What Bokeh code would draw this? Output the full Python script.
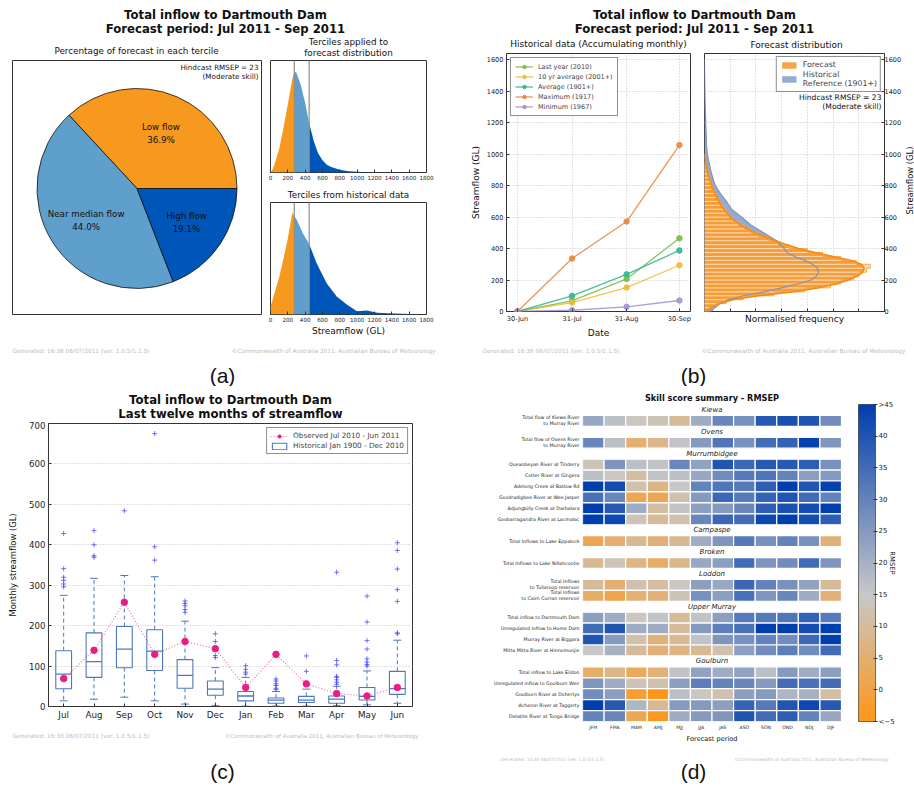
import numpy as np
import pandas as pd
from bokeh.plotting import figure
from bokeh.models import (Range1d, Label, FixedTicker, Legend, LegendItem, Title,
                          ColumnDataSource, LinearColorMapper, Grid, Span)
from bokeh.layouts import row, column
from bokeh.embed import file_html
from bokeh.resources import INLINE
from bokeh.core.properties import value

FONT = "DejaVu Sans"
FOOT_COLOR = "#BDBDBD"

# ---------------- data ----------------
chart_title = "Total inflow to Dartmouth Dam"
forecast_period = "Forecast period: Jul 2011 - Sep 2011"
last12_title = "Last twelve months of streamflow"
footer_a = "Generated: 16:38 06/07/2011 (ver. 1.0.5/1.1.5)"
footer_c = "Generated: 16:33 06/07/2011 (ver. 1.0.5/1.1.5)"
footer_d = "Generated: 10:40 08/07/2011 (ver. 1.0.5/1.1.5)"
copyright_txt = "\u00a9Commonwealth of Australia 2011, Australian Bureau of Meteorology"

# (a) terciles
tercile_labels = ["Low flow", "Near median flow", "High flow"]
tercile_pct = [36.9, 44.0, 19.1]
tercile_colors = ["#F7991F", "#5E9FCB", "#0055B9"]
tercile_bounds = [275, 446]
flow_ticks = list(range(0, 1801, 200))

fc_flow = [0, 25, 50, 100, 150, 200, 250, 275, 300, 350, 400, 446, 500, 550, 600, 650, 700, 800, 900, 1000, 1100, 1200]
fc_density = [0.0, 0.03, 0.08, 0.21, 0.40, 0.61, 0.83, 0.905, 0.89, 0.78, 0.62, 0.44, 0.28, 0.17, 0.11, 0.07, 0.05, 0.025, 0.012, 0.006, 0.003, 0.0]
hist_flow = [0, 50, 100, 150, 200, 252, 275, 300, 376, 446, 531, 648, 764, 880, 997, 1113, 1230, 1423, 1617, 1650]
hist_density = [0.07, 0.20, 0.33, 0.50, 0.68, 0.91, 0.88, 0.85, 0.72, 0.63, 0.46, 0.28, 0.16, 0.09, 0.03, 0.035, 0.015, 0.01, 0.005, 0.0]

# (b) accumulating monthly flow
acc_dates = ["2011-06-30", "2011-07-31", "2011-08-31", "2011-09-30"]
acc_labels = ["30-Jun", "31-Jul", "31-Aug", "30-Sep"]
acc_names = ["Last year (2010)", "10 yr average (2001+)", "Average (1901+)", "Maximum (1917)", "Minimum (1967)"]
acc_last_year = [0, 68, 207, 466]
acc_10yr_avg = [0, 57, 152, 294]
acc_average = [0, 99, 236, 388]
acc_maximum = [0, 337, 572, 1058]
acc_minimum = [0, 8, 30, 70]
acc_colors = ["#78B943", "#EDBB2C", "#2DB48E", "#E9843B", "#9D90D2"]

fc_hist_edges = list(range(0, 951, 25))
fc_hist_freq = [0.2, 0.45, 0.85, 1.5, 2.7, 3.9, 4.9, 5.3, 5.8, 6.0, 6.3, 6.45, 5.9, 5.3, 4.6, 4.0,
                3.3, 2.85, 2.5, 2.1, 1.8, 1.55, 1.3, 1.1, 0.95, 0.85, 0.75, 0.62, 0.55, 0.45, 0.38,
                0.32, 0.27, 0.22, 0.17, 0.12, 0.08, 0.05]
fc_kde_flow = [0, 25, 50, 75, 100, 125, 150, 175, 200, 225, 250, 275, 300, 325, 350, 375, 400, 425,
               450, 500, 550, 600, 650, 700, 750, 800, 850, 900, 950, 1000]
fc_kde_freq = [0.1, 0.25, 0.6, 1.1, 2.1, 3.5, 4.4, 5.1, 5.6, 5.95, 6.15, 6.21, 6.1, 5.7, 5.0, 4.3,
               3.66, 3.2, 2.75, 1.95, 1.4, 1.0, 0.75, 0.55, 0.4, 0.28, 0.18, 0.1, 0.04, 0.0]
ref_kde_flow = [0, 25, 50, 75, 100, 125, 150, 175, 200, 225, 250, 275, 300, 325, 350, 375, 400, 450,
                500, 550, 600, 650, 700, 750, 800, 850, 900, 950, 1000, 1050, 1100, 1200, 1300, 1400, 1500, 1600]
ref_kde_freq = [0.25, 0.4, 0.6, 0.95, 1.5, 2.3, 3.0, 3.6, 4.15, 4.35, 4.43, 4.4, 4.2, 3.9, 3.5, 3.2,
                3.1, 2.8, 2.3, 1.8, 1.45, 1.05, 0.85, 0.62, 0.42, 0.32, 0.24, 0.17, 0.11, 0.08, 0.07,
                0.05, 0.03, 0.015, 0.005, 0.0]
norm_freq_ticks = [1, 2, 3, 4, 5, 6]

# (c) last twelve months
months = ["Jul", "Aug", "Sep", "Oct", "Nov", "Dec", "Jan", "Feb", "Mar", "Apr", "May", "Jun"]
box_q1 = [44, 72, 96, 89, 45, 28, 14, 8, 10, 8, 16, 30]
box_med = [80, 111, 142, 137, 77, 43, 26, 16, 16, 18, 25, 44]
box_q3 = [138, 182, 198, 190, 116, 63, 37, 21, 25, 26, 47, 87]
box_lo = [14, 18, 23, 14, 6, 2, 1, 1, 1, 2, 4, 8]
box_hi = [275, 317, 324, 321, 211, 96, 72, 37, 43, 50, 88, 164]
box_outliers = [
    [296, 303, 312, 320, 341, 428],
    [369, 373, 400, 435],
    [484],
    [362, 395, 675],
    [233, 240, 249, 255, 261],
    [121, 126, 161, 180],
    [80, 85, 92, 101],
    [42, 45, 52, 56, 63, 68],
    [87, 125],
    [55, 60, 66, 72, 75, 103, 114, 332],
    [100, 104, 110, 118, 142, 163, 209, 273],
    [180, 182, 260, 289, 340, 386, 405],
]
observed = [69, 139, 258, 129, 161, 143, 47, 129, 56, 32, 26, 47]

# (d) skill score summary
periods = ["JFM", "FMA", "MAM", "AMJ", "MJJ", "JJA", "JAS", "ASO", "SON", "OND", "NDJ", "DJF"]
groups = ["Kiewa", "Ovens", "Murrumbidgee", "Campaspe", "Broken", "Loddon", "Upper Murray", "Goulburn"]
group_sites = [
    ["Total flow of Kiewa River\nto Murray River"],
    ["Total flow of Ovens River\nto Murray River"],
    ["Queanbeyan River at Tinderry", "Cotter River at Gingera", "Adelong Creek at Batlow Rd",
     "Goodradigbee River at Wee Jasper", "Adjungbilly Creek at Darbalara", "Goobarragandra River at Lacmalac"],
    ["Total Inflows to Lake Eppalock"],
    ["Total Inflows to Lake Nillahcootie"],
    ["Total Inflows\nto Tullaroop reservoir", "Total Inflows\nto Cairn Curran reservoir"],
    ["Total inflow to Dartmouth Dam", "Unregulated inflow to Hume Dam", "Murray River at Biggara",
     "Mitta Mitta River at Hinnomunjie"],
    ["Total inflow to Lake Eildon", "Unregulated inflow to Goulburn Weir", "Goulburn River at Dohertys",
     "Acheron River at Taggerty", "Delatite River at Tonga Bridge"],
]
rmsep_rows = [
    [22, 17, 14, 13, 10, 21, 29, 27, 39, 41, 40, 28],
    [29, 17, 5, 8, 16, 25, 33, 27, 35, 37, 44, 26],
    [13, 26, 17, 16, 29, 23, 40, 36, 39, 39, 38, 27],
    [17, 14, 11, 16, 17, 22, 28, 32, 33, 30, 24, 25],
    [45, 42, 12, 7, 15, 30, 33, 32, 38, 45, 40, 44],
    [34, 29, 2, 2, 12, 25, 36, 32, 37, 40, 35, 30],
    [45, 39, 21, 11, 16, 24, 25, 29, 38, 41, 42, 45],
    [45, 43, 13, 10, 12, 29, 36, 35, 43, 45, 42, 38],
    [2, 5, 9, 6, 9, 21, 26, 32, 27, 30, 27, 6],
    [9, 13, 7, 4, 8, 22, 24, 35, 26, 28, 35, 26],
    [10, 5, 12, 11, 14, 24, 22, 36, 30, 27, 23, 10],
    [4, 1, 6, 6, 13, 27, 24, 34, 26, 29, 21, 6],
    [24, 21, 14, 16, 10, 16, 24, 32, 32, 33, 37, 32],
    [35, 40, 21, 21, 10, 25, 31, 34, 45, 45, 42, 45],
    [40, 25, 12, 6, 9, 16, 26, 27, 30, 28, 36, 45],
    [15, 20, 10, 6, 7, 9, 12, 24, 28, 31, 28, 35],
    [4, 8, 3, 6, 16, 23, 21, 23, 17, 25, 21, 24],
    [26, 21, 13, 12, 24, 31, 30, 29, 25, 35, 34, 35],
    [28, 24, -2, -5, 17, 14, 12, 24, 25, 19, 20, 11],
    [45, 39, 19, 9, 25, 25, 24, 37, 32, 40, 43, 39],
    [30, 29, 2, -4, 21, 25, 26, 40, 35, 38, 30, 22],
]
rmsep_low, rmsep_high = -5, 45
cbar_ticks = [-5, 0, 5, 10, 15, 20, 25, 30, 35, 40, 45]

# ---------------- helpers ----------------
FRAMES = {}


def mk(L, T, R, B, fl=None, ft=None, fr=None, fb=None, xr=(0, 1), yr=(0, 1), xaxis=None, yaxis=None):
    fl = L if fl is None else fl
    ft = T if ft is None else ft
    fr = R if fr is None else fr
    fb = B if fb is None else fb
    p = figure(width=R - L, height=B - T, output_backend="svg", toolbar_location=None,
               x_range=Range1d(*xr), y_range=Range1d(*yr),
               x_axis_location=xaxis, y_axis_location=yaxis,
               min_border_left=fl - L, min_border_right=R - fr,
               min_border_top=ft - T, min_border_bottom=B - fb)
    p.grid.visible = False
    p.outline_line_color = None
    p.background_fill_color = "white"
    p.border_fill_color = "white"
    FRAMES[p.id] = (fl, fb)
    return p


def txt(p, X, Y, text, size, color="#111111", style="normal", align="center",
        baseline="middle", angle=0.0, font=FONT):
    fl, fb = FRAMES[p.id]
    p.add_layout(Label(x=X - fl, y=fb - Y, x_units="screen", y_units="screen", text=text,
                       text_font=font, text_font_size=f"{size}px", text_color=color,
                       text_font_style=style, text_align=align, text_baseline=baseline,
                       angle=angle))


def add_title(p, text, size, standoff, style="normal", place="above"):
    p.add_layout(Title(text=text, text_font=FONT, text_font_size=f"{size}px", text_font_style=style,
                       text_color="#111111", align="center", standoff=standoff, offset=0), place)


def style_axis(ax, size, color="#222222"):
    ax.major_label_text_font = FONT
    ax.major_label_text_font_size = f"{size}px"
    ax.major_label_text_color = color
    ax.axis_line_color = None
    ax.major_tick_in = 3
    ax.major_tick_out = 0
    ax.minor_tick_line_color = None
    ax.major_tick_line_color = "#333333"
    ax.major_label_standoff = 3
    ax.axis_label_text_font = FONT
    ax.axis_label_text_font_style = "normal"
    ax.axis_label_text_color = "#111111"


def axis_label(ax, text, size, standoff):
    ax.axis_label = text
    ax.axis_label_text_font_size = f"{size}px"
    ax.axis_label_standoff = standoff


def dotted_grid(p, dim, ticks):
    g = Grid(dimension=dim, ticker=FixedTicker(ticks=ticks), grid_line_color="#C4C4C4",
             grid_line_dash="1 2", grid_line_width=1)
    p.add_layout(g)


FRAME_LINE = "#333333"

# ================= PANEL A =================
pa_top = mk(0, 0, 440, 59)
txt(pa_top, 225, 14.5, chart_title, 11.7, style="bold")
txt(pa_top, 225, 28.5, forecast_period, 11.7, style="bold")
txt(pa_top, 136, 50, "Percentage of forecast in each tercile", 8.8)
txt(pa_top, 348, 41.5, "Terciles applied to", 8.8)
txt(pa_top, 348, 52.5, "forecast distribution", 8.8)

pie = mk(0, 59, 265, 340, 12, 60, 261, 314, xr=(-1.245, 1.245), yr=(-1.26, 1.28))
pie.outline_line_color = FRAME_LINE
pie.outline_line_width = 1
frac = np.array(tercile_pct) / np.sum(tercile_pct)
ends = np.cumsum(frac) * 2 * np.pi
starts = np.concatenate([[0.0], ends[:-1]])
mids = (starts + ends) / 2
pie.wedge(x=0, y=0, radius=1, start_angle=starts, end_angle=ends,
          fill_color=tercile_colors, line_color="#111111", line_width=0.8)
pie.text(x=0.6 * np.cos(mids), y=0.6 * np.sin(mids),
         text=[f"{n}\n{v:.1f}%" for n, v in zip(tercile_labels, tercile_pct)],
         text_font=value(FONT), text_font_size="8.7px", text_align="center",
         text_baseline="middle", text_color="#111111", text_line_height=1.25)
txt(pie, 258, 66.5, "Hindcast RMSEP = 23", 7.2, align="right")
txt(pie, 258, 75.5, "(Moderate skill)", 7.2, align="right")


def density_panel(p, flows, dens):
    flows = np.array(flows, dtype=float)
    dens = np.array(dens, dtype=float)
    edges = [flows[0]] + tercile_bounds + [flows[-1]]
    for i, c in enumerate(tercile_colors):
        m = (flows >= edges[i]) & (flows <= edges[i + 1])
        p.varea(x=flows[m], y1=0, y2=dens[m], fill_color=c)
    for b in tercile_bounds:
        p.add_layout(Span(location=b, dimension="height", line_color="#8C8C8C", line_width=1.2))
    p.outline_line_color = FRAME_LINE
    p.outline_line_width = 1
    p.xaxis.ticker = FixedTicker(ticks=flow_ticks)
    style_axis(p.xaxis[0], 5.6)
    p.xaxis.major_label_standoff = 2


s1 = mk(265, 59, 440, 183, 270, 60, 426, 172, xr=(0, 1800), yr=(0, 1), xaxis="below")
density_panel(s1, fc_flow, fc_density)

s2t = mk(265, 183, 440, 201, 270, 183, 426, 201)
txt(s2t, 348, 194, "Terciles from historical data", 8.8)

s2 = mk(265, 201, 440, 340, 270, 202, 426, 314, xr=(0, 1800), yr=(0, 1), xaxis="below")
density_panel(s2, hist_flow, hist_density)
axis_label(s2.xaxis[0], "Streamflow (GL)", 9, 1)

pa_foot = mk(0, 340, 440, 386)
txt(pa_foot, 12, 350, footer_a, 5.8, color=FOOT_COLOR, align="left")
txt(pa_foot, 435, 350, copyright_txt, 5.8, color=FOOT_COLOR, align="right")
txt(pa_foot, 222, 375, "(a)", 21, font="Liberation Sans")

panel_a = column(row(pa_top), row(pie, column(s1, s2t, s2)), row(pa_foot))

# ================= PANEL B =================
pb_top = mk(440, 0, 914, 52)
txt(pb_top, 694, 14.5, chart_title, 11.7, style="bold")
txt(pb_top, 694, 28.5, forecast_period, 11.7, style="bold")
txt(pb_top, 598, 43, "Historical data (Accumulating monthly)", 9)
txt(pb_top, 796, 44.5, "Forecast distribution", 9)

acc_days = (pd.to_datetime(acc_dates) - pd.to_datetime(acc_dates[0])).days.values.astype(float)
b1 = mk(440, 52, 697, 340, 506, 53, 690, 314, xr=(-6.25, 98.3), yr=(0, 1640), xaxis="below", yaxis="left")
b1.outline_line_color = FRAME_LINE
b1.xaxis.ticker = FixedTicker(ticks=list(acc_days))
b1.xaxis.major_label_overrides = {float(d): l for d, l in zip(acc_days, acc_labels)}
b1.yaxis.ticker = FixedTicker(ticks=list(range(0, 1601, 200)))
style_axis(b1.xaxis[0], 6.6)
style_axis(b1.yaxis[0], 6.6)
axis_label(b1.xaxis[0], "Date", 9, 2)
axis_label(b1.yaxis[0], "Streamflow (GL)", 9, 3)
dotted_grid(b1, 0, list(acc_days))
dotted_grid(b1, 1, list(range(200, 1601, 200)))
b1_items = []
for name, vals, col in zip(acc_names, [acc_last_year, acc_10yr_avg, acc_average, acc_maximum, acc_minimum], acc_colors):
    ln = b1.line(acc_days, vals, line_color=col, line_width=1.3, line_alpha=0.85)
    sc = b1.scatter(acc_days, vals, size=5.5, fill_color=col, line_color=col, fill_alpha=0.85, line_alpha=0.85)
    b1_items.append(LegendItem(label=name, renderers=[ln, sc]))
leg1 = Legend(items=b1_items, location="top_left", margin=4, padding=4, spacing=1,
              label_text_font=FONT, label_text_font_size="6.5px", label_height=8, glyph_height=9,
              glyph_width=18, label_standoff=5, border_line_color="#222222", border_line_width=1,
              background_fill_alpha=1)
b1.add_layout(leg1)

b2 = mk(697, 52, 905, 340, 704, 53, 884, 314, xr=(0, 7), yr=(0, 1640), xaxis="below", yaxis="right")
b2.outline_line_color = FRAME_LINE
b2.yaxis.ticker = FixedTicker(ticks=list(range(0, 1601, 200)))
style_axis(b2.yaxis[0], 6.5)
b2.yaxis.major_label_standoff = 0
b2.xaxis.ticker = FixedTicker(ticks=norm_freq_ticks)
style_axis(b2.xaxis[0], 6.6)
b2.xaxis.major_label_text_alpha = 0
axis_label(b2.xaxis[0], "Normalised frequency", 9, 2)
dotted_grid(b2, 0, norm_freq_ticks)
dotted_grid(b2, 1, list(range(200, 1601, 200)))
ref_area = b2.harea(x1=0, x2=ref_kde_freq, y=ref_kde_flow, fill_color="#8EA7D1", fill_alpha=0.95)
fc_area = b2.harea(x1=0, x2=fc_kde_freq, y=fc_kde_flow, fill_color="#F8A446", fill_alpha=1.0)
edges = np.array(fc_hist_edges, dtype=float)
centers = (edges[:-1] + edges[1:]) / 2
b2.hbar(y=centers, height=np.diff(edges), left=0, right=fc_hist_freq,
        fill_color="#F7931E", fill_alpha=0.35, line_color="white", line_alpha=0.55, line_width=0.8)
step_x = np.repeat(fc_hist_freq, 2)
step_y = np.column_stack([edges[:-1], edges[1:]]).ravel()
b2.line(step_x, step_y, line_color="#F7931E", line_width=0.9, line_alpha=0.8)
b2.line(ref_kde_freq, ref_kde_flow, line_color="#8593AE", line_width=1.2)
b2.line(fc_kde_freq, fc_kde_flow, line_color="#F58A12", line_width=1.5)
leg2 = Legend(items=[LegendItem(label="Forecast", renderers=[fc_area]),
                     LegendItem(label="Historical\nReference (1901+)", renderers=[ref_area])],
              location="top_right", margin=3, padding=3, spacing=1,
              label_text_font=FONT, label_text_font_size="7.8px", label_height=9, glyph_height=8,
              glyph_width=18, label_standoff=5, border_line_color="#222222", border_line_width=1,
              background_fill_alpha=1)
b2.add_layout(leg2)
txt(b2, 881, 100, "Hindcast RMSEP = 23", 7.6, align="right")
txt(b2, 881, 109, "(Moderate skill)", 7.6, align="right")

bs = mk(905, 52, 914, 340, 905, 53, 914, 314)
txt(bs, 909.6, 183, "Streamflow (GL)", 8.4, angle=np.pi / 2)

pb_foot = mk(440, 340, 914, 386)
txt(pb_foot, 482, 350, footer_a, 5.8, color=FOOT_COLOR, align="left")
txt(pb_foot, 905, 350, copyright_txt, 5.8, color=FOOT_COLOR, align="right")
txt(pb_foot, 693, 375, "(b)", 21, font="Liberation Sans")

panel_b = column(row(pb_top), row(b1, b2, bs), row(pb_foot))

# ================= PANEL C =================
BOXC = "#4C78BE"
pc_top = mk(0, 386, 420, 421)
txt(pc_top, 230, 399, chart_title, 11.7, style="bold")
txt(pc_top, 230, 413, last12_title, 11.7, style="bold")

pc = mk(0, 421, 420, 722, 48, 423, 412, 707, xr=(0.5, 12.5), yr=(0, 700), xaxis="below", yaxis="left")
pc.outline_line_color = FRAME_LINE
xs = np.arange(1, len(months) + 1, dtype=float)
pc.xaxis.ticker = FixedTicker(ticks=list(xs))
pc.xaxis.major_label_overrides = {float(x): m for x, m in zip(xs, months)}
pc.yaxis.ticker = FixedTicker(ticks=list(range(0, 701, 100)))
style_axis(pc.xaxis[0], 8.8)
style_axis(pc.yaxis[0], 8.6)
axis_label(pc.yaxis[0], "Monthly streamflow (GL)", 8.4, 8)
dotted_grid(pc, 1, list(range(100, 601, 100)))
bw = 0.26
pc.segment(x0=xs, y0=box_q3, x1=xs, y1=box_hi, line_color=BOXC, line_dash="4 3", line_width=1)
pc.segment(x0=xs, y0=box_q1, x1=xs, y1=box_lo, line_color=BOXC, line_dash="4 3", line_width=1)
pc.segment(x0=xs - bw / 2, y0=box_hi, x1=xs + bw / 2, y1=box_hi, line_color=BOXC, line_width=1)
pc.segment(x0=xs - bw / 2, y0=box_lo, x1=xs + bw / 2, y1=box_lo, line_color=BOXC, line_width=1)
boxes = pc.vbar(x=xs, width=2 * bw, bottom=box_q1, top=box_q3, fill_color=None, line_color=BOXC, line_width=1.1)
pc.segment(x0=xs - bw, y0=box_med, x1=xs + bw, y1=box_med, line_color=BOXC, line_width=1.3)
ox = [x for x, outs in zip(xs, box_outliers) for _ in outs]
oy = [v for outs in box_outliers for v in outs]
pc.scatter(ox, oy, marker="cross", size=5, line_color="#3F3FFF", line_width=0.9, line_alpha=0.8)
obs_line = pc.line(xs, observed, line_color="#F06AAE", line_dash="1 2", line_width=1.2)
obs_pts = pc.scatter(xs, observed, size=6.5, fill_color="#EC1C84", line_color="#EC1C84")
leg3 = Legend(items=[LegendItem(label="Observed Jul 2010 - Jun 2011", renderers=[obs_line, obs_pts]),
                     LegendItem(label="Historical Jan 1900 - Dec 2010", renderers=[boxes])],
              location="top_right", margin=4, padding=3, spacing=1,
              label_text_font=FONT, label_text_font_size="7.3px", label_height=9, glyph_height=8,
              glyph_width=18, label_standoff=5, border_line_color="#222222", border_line_width=1,
              background_fill_alpha=1)
pc.add_layout(leg3)

pc_foot = mk(0, 722, 420, 790)
txt(pc_foot, 12, 735, footer_c, 5.8, color=FOOT_COLOR, align="left")
txt(pc_foot, 418, 735, copyright_txt, 5.5, color=FOOT_COLOR, align="right")
txt(pc_foot, 222, 771, "(c)", 21, font="Liberation Sans")

panel_c = column(row(pc_top), row(pc), row(pc_foot))

# ================= PANEL D =================
def lerp_palette(stops, n=256):
    vals = np.array([s[0] for s in stops], dtype=float)
    cols = np.array([s[1] for s in stops], dtype=float)
    out = []
    for t in np.linspace(vals[0], vals[-1], n):
        rgb = [np.interp(t, vals, cols[:, k]) for k in range(3)]
        out.append("#%02x%02x%02x" % tuple(int(round(c)) for c in rgb))
    return out


palette = lerp_palette([(-5, (255, 150, 25)), (15, (200, 200, 200)), (45, (0, 62, 174))])
mapper = LinearColorMapper(palette=palette, low=rmsep_low, high=rmsep_high)

header_slots, header_names = [], []
row_slots, row_names, row_vals = [], [], []
slot = 0
r_i = 0
for g, sites in zip(groups, group_sites):
    header_slots.append(slot)
    header_names.append(g)
    slot += 1
    for s in sites:
        row_slots.append(slot)
        row_names.append(s)
        row_vals.append(rmsep_rows[r_i])
        r_i += 1
        slot += 1
n_slots = slot

hm = mk(420, 386, 841, 745, 582, 404, 841, 726, xr=(0.5, 12.5), yr=(n_slots - 0.5, -0.5),
        xaxis="below", yaxis="left")
cx, cy, cv = [], [], []
for sl, vals in zip(row_slots, row_vals):
    for j, v in enumerate(vals):
        cx.append(j + 1)
        cy.append(sl)
        cv.append(v)
hm.rect(x="x", y="y", width=1, height=1, source=ColumnDataSource(dict(x=cx, y=cy, v=cv)),
        fill_color={"field": "v", "transform": mapper}, line_color="white", line_width=1.2)
hm.text(x=[6.5] * len(header_slots), y=header_slots, text=header_names, text_font=value(FONT),
        text_font_style="italic", text_font_size="7px", text_align="center", text_baseline="middle",
        text_color="#222222")
hm.xaxis.ticker = FixedTicker(ticks=list(range(1, 13)))
hm.xaxis.major_label_overrides = {float(i + 1): p for i, p in enumerate(periods)}
hm.yaxis.ticker = FixedTicker(ticks=[float(s) for s in row_slots])
hm.yaxis.major_label_overrides = {float(s): n for s, n in zip(row_slots, row_names)}
for ax, sz in ((hm.xaxis[0], 4.6), (hm.yaxis[0], 4.7)):
    style_axis(ax, sz)
    ax.major_tick_line_color = None
    ax.major_tick_in = 0
    ax.major_label_standoff = 3
axis_label(hm.xaxis[0], "Forecast period", 6.6, 2)
add_title(hm, "Skill score summary - RMSEP", 8.2, 3, style="bold")

cb = mk(841, 386, 914, 745, 858, 404, 875, 726, xr=(0, 1), yr=(rmsep_low, rmsep_high), yaxis="right")
ramp = np.linspace(rmsep_low, rmsep_high, 256).reshape(-1, 1)
cb.image(image=[ramp], x=0, y=rmsep_low, dw=1, dh=rmsep_high - rmsep_low, color_mapper=mapper)
cb.outline_line_color = "#555555"
cb.outline_line_width = 1
cb.yaxis.ticker = FixedTicker(ticks=cbar_ticks)
cb.yaxis.major_label_overrides = {float(cbar_ticks[0]): "<\u22125", float(cbar_ticks[-1]): ">45"}
style_axis(cb.yaxis[0], 7)
cb.yaxis.major_tick_in = 2
cb.yaxis.major_tick_out = 2
cb.yaxis.major_label_standoff = 1
axis_label(cb.yaxis[0], "RMSEP", 6.8, -10)

pd_foot = mk(420, 745, 914, 790)
txt(pd_foot, 500, 759, footer_d, 4.4, color=FOOT_COLOR, align="left")
txt(pd_foot, 888, 759, copyright_txt, 4.4, color=FOOT_COLOR, align="right")
txt(pd_foot, 693, 771, "(d)", 21, font="Liberation Sans")

panel_d = column(row(hm, cb), row(pd_foot))

layout = column(row(panel_a, panel_b), row(panel_c, panel_d))

with open("out.html", "w", encoding="utf-8") as f:
    f.write(file_html(layout, INLINE))
